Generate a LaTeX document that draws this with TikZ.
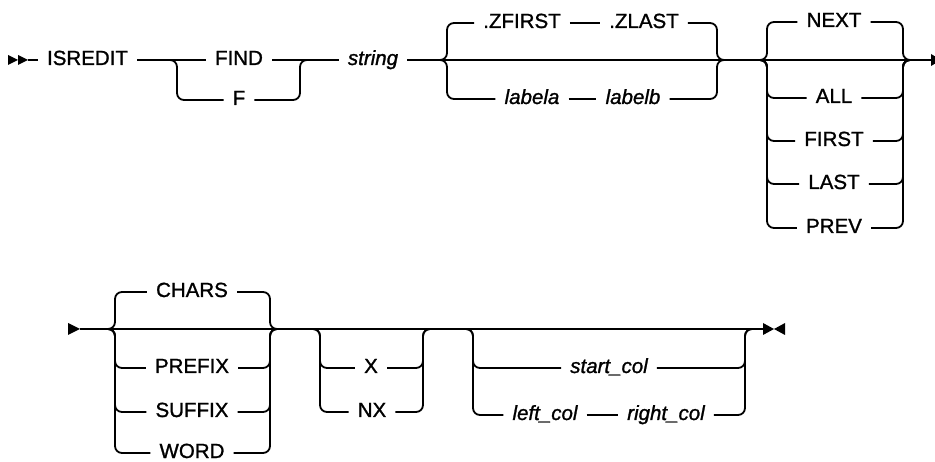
\documentclass[tikz,border=0pt]{standalone}
\usepackage{fontspec}
\setmainfont{Liberation Sans}[FakeBold=1.2]
\begin{document}
\begin{tikzpicture}[x=1pt,y=-1pt,
  rr/.style={line width=1.8pt, rounded corners=7pt},
  kw/.style={font=\fontsize{20.5}{24}\selectfont, inner xsep=9pt, inner ysep=0pt,
     text height=10pt, text depth=0pt, anchor=center},
  var/.style={kw, font=\fontsize{20.5}{24}\selectfont\itshape},
  tip/.style={fill=black}]
\useasboundingbox (0,0) rectangle (935,462);
\clip (0,0) rectangle (935,462);
% ---------------- Row 1 ----------------
\fill[tip] (8,55) -- (18,60) -- (8,65) -- cycle;
\fill[tip] (18,55) -- (28,60) -- (18,65) -- cycle;
\coordinate (s1) at (28,60);
\node[kw] (isr) at (87.5,60) {ISREDIT};
\node[kw] (find) at (239,60) {FIND};
\node[kw] (f) at (239,100) {F};
\node[var] (str) at (373,60) {string};
\coordinate (g1l) at (170,60);  \coordinate (g1lr) at (177,60);
\coordinate (g1rr) at (300,60); \coordinate (g1r) at (307,60);
\draw[rr] (s1) -- (isr.west);
\draw[rr] (isr.east) -- (find.west);
\draw[rr] (find.east) -- (str.west);
\draw[rr] (g1l) -- (g1lr) |- (f.west);
\draw[rr] (f.east) -| (g1rr) -- (g1r);
% group 2
\coordinate (g2l) at (440,60);  \coordinate (g2lr) at (447,60);
\coordinate (g2rr) at (717,60); \coordinate (g2r) at (724,60);
\node[kw] (zf) at (522,23) {.ZFIRST};
\node[kw] (zl) at (644,23) {.ZLAST};
\node[var] (la) at (532,99) {labela};
\node[var] (lb) at (633,99) {labelb};
\draw[rr] (g2l) -- (g2lr) |- (zf.west);
\draw[rr] (zf.east) -- (zl.west);
\draw[rr] (zl.east) -| (g2rr) -- (g2r);
\draw[rr] (g2l) -- (g2lr) |- (la.west);
\draw[rr] (la.east) -- (lb.west);
\draw[rr] (lb.east) -| (g2rr) -- (g2r);
% group 3
\coordinate (g3l) at (760,60);  \coordinate (g3lr) at (767,60);
\coordinate (g3rr) at (903,60); \coordinate (g3r) at (910,60);
\coordinate (e1) at (931,60);
\node[kw] (nx) at (834,22) {NEXT};
\node[kw] (al) at (834,98) {ALL};
\node[kw] (fi) at (834,141) {FIRST};
\node[kw] (la2) at (834,184) {LAST};
\node[kw] (pv) at (834,228) {PREV};
\foreach \n in {nx,al,fi,la2,pv}{
  \draw[rr] (g3l) -- (g3lr) |- (\n.west);
  \draw[rr] (\n.east) -| (g3rr) -- (g3r);
}
\draw[rr] (str.east) -- (e1);
\fill[tip] (931,54) -- (941,60) -- (931,66) -- cycle;
% ---------------- Row 2 ----------------
\fill[tip] (68,323) -- (80,329) -- (68,335) -- cycle;
\coordinate (s2) at (80,329);
\coordinate (e2) at (763,329);
\draw[rr] (s2) -- (e2);
% group 4
\coordinate (g4l) at (108,329);  \coordinate (g4lr) at (115,329);
\coordinate (g4rr) at (270,329); \coordinate (g4r) at (277,329);
\node[kw] (ch) at (192,292) {CHARS};
\node[kw] (pf) at (192,368) {PREFIX};
\node[kw] (sf) at (192,412) {SUFFIX};
\node[kw] (wd) at (192,453) {WORD};
\foreach \n in {ch,pf,sf,wd}{
  \draw[rr] (g4l) -- (g4lr) |- (\n.west);
  \draw[rr] (\n.east) -| (g4rr) -- (g4r);
}
% group 5
\coordinate (g5l) at (313,329);  \coordinate (g5lr) at (320,329);
\coordinate (g5rr) at (423,329); \coordinate (g5r) at (430,329);
\node[kw] (x) at (371,368) {X};
\node[kw] (nxx) at (372,412) {NX};
\foreach \n in {x,nxx}{
  \draw[rr] (g5l) -- (g5lr) |- (\n.west);
  \draw[rr] (\n.east) -| (g5rr) -- (g5r);
}
% group 6
\coordinate (g6l) at (466,329);  \coordinate (g6lr) at (473,329);
\coordinate (g6rr) at (745,329); \coordinate (g6r) at (752,329);
\node[var] (sc) at (609,368) {start\_col};
\node[var] (lc) at (545,415) {left\_col};
\node[var] (rc) at (666,415) {right\_col};
\draw[rr] (g6l) -- (g6lr) |- (sc.west);
\draw[rr] (sc.east) -| (g6rr) -- (g6r);
\draw[rr] (g6l) -- (g6lr) |- (lc.west);
\draw[rr] (lc.east) -- (rc.west);
\draw[rr] (rc.east) -| (g6rr) -- (g6r);
% end marker
\fill[tip] (763,323) -- (774,329) -- (763,335) -- cycle;
\fill[tip] (785,323) -- (774,329) -- (785,335) -- cycle;
\end{tikzpicture}
\end{document}
